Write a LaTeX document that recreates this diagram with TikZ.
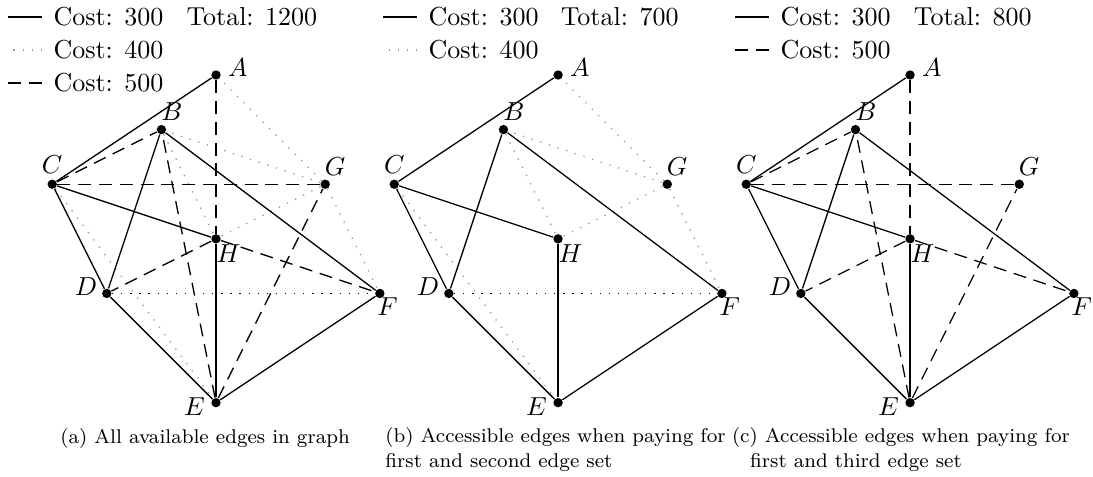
\documentclass[tikz,border=0pt]{standalone}
\usepackage{amsmath}
\usetikzlibrary{graphs}

\tikzset{
	vertex/.style={circle,fill=black,inner sep=0pt,minimum size=3.6pt},
	cost300/.style={line width=0.5pt},
	cost400/.style={line width=0.5pt,dash pattern=on 0.5pt off 3pt,black!40},
	cost500/.style={line width=0.5pt,dash pattern=on 5pt off 3pt},
	legtext/.style={anchor=west,inner sep=0pt},
	subcap/.style={inner sep=0pt,font=\fontsize{7.65}{9.6}\selectfont}
}

% the eight vertices of one panel, names prefixed by #1
\newcommand{\placevertices}[1]{%
	\node[vertex,label={[xshift=8.4pt,yshift=2.8pt]center:$A$}] (#1A) at (0,0) {};
	\node[vertex,label={[xshift=4pt,yshift=6.9pt]center:$B$}] (#1B) at (-1,-1) {};
	\node[vertex,label={[xshift=0pt,yshift=7.5pt]center:$C$}] (#1C) at (-3,-2) {};
	\node[vertex,label={[xshift=3.8pt,yshift=6.9pt]center:$G$}] (#1G) at (2,-2) {};
	\node[vertex,label={[xshift=4.8pt,yshift=-5.6pt]center:$H$}] (#1H) at (0,-3) {};
	\node[vertex,label={[xshift=-8pt,yshift=2.5pt]center:$D$}] (#1D) at (-2,-4) {};
	\node[vertex,label={[xshift=3pt,yshift=-5pt]center:$F$}] (#1F) at (3,-4) {};
	\node[vertex,label={[xshift=-8.3pt,yshift=-1.4pt]center:$E$}] (#1E) at (0,-6) {};
}

\begin{document}
\begin{tikzpicture}[x=21pt,y=21pt]
	\useasboundingbox (-3.956,-7.344) rectangle (16.06,1.374);

	% (a) all edges
	\begin{scope}
	\placevertices{a}
	\graph [use existing nodes] {
		aG --[cost400] {aA, aB, aH, aF};
		aB --[cost400] aH;
		aC --[cost400] aE;
		aD --[cost400,black] aF;
		
		aC --[cost500] {aB, aG};
		aA --[cost500] aH;
		aE --[cost500] {aB, aG};
		aH --[cost500] {aD, aF};
		
		aC --[cost300] {aA, aD, aH};
		aB --[cost300] {aD, aF};
		aE --[cost300] {aD, aH, aF};
	};
	\node[legtext] (aCost300) at (-2.985,1.062) {Cost: 300};
	\node[legtext] (aTotal) at (-0.55,1.062) {Total: 1200};
	\node[legtext] (aCost400) at (-2.985,0.458) {Cost: 400};
	\node[legtext] (aCost500) at (-2.985,-0.147) {Cost: 500};
	\draw[cost300] ([xshift=-4.2pt]aCost300.west) -- ++(-0.62,0);
	\draw[cost400] ([xshift=-4.2pt]aCost400.west) -- ++(-0.62,0);
	\draw[cost500] ([xshift=-4.2pt]aCost500.west) -- ++(-0.62,0);
	\node[subcap,anchor=base] (aCaption) at (-0.2,-6.74) {(a) All available edges in graph};
	\end{scope}

	% (b) first and second edge set
	\begin{scope}[shift={(6.264,0)}]
	\placevertices{b}
	\graph [use existing nodes] {
		bG --[cost400] {bA, bB, bH, bF};
		bB --[cost400] bH;
		bC --[cost400] bE;
		bD --[cost400,black] bF;
		
		bC --[cost300] {bA, bD, bH};
		bB --[cost300] {bD, bF};
		bE --[cost300] {bD, bH, bF};
	};
	\node[legtext] (bCost300) at (-2.38,1.062) {Cost: 300};
	\node[legtext] (bTotal) at (0.04,1.062) {Total: 700};
	\node[legtext] (bCost400) at (-2.38,0.458) {Cost: 400};
	\draw[cost300] ([xshift=-4.2pt]bCost300.west) -- ++(-0.62,0);
	\draw[cost400] ([xshift=-4.2pt]bCost400.west) -- ++(-0.62,0);
	\node[subcap,align=left,anchor=north west] (bCaption) at (-3.17,-6.454)
		{(b) Accessible edges when paying for\\first and second edge set};
	\end{scope}

	% (c) first and third edge set
	\begin{scope}[shift={(12.71,0)}]
	\placevertices{c}
	\graph [use existing nodes] {
		cC --[cost500] {cB, cG};
		cA --[cost500] cH;
		cE --[cost500] {cB, cG};
		cH --[cost500] {cD, cF};
		
		cC --[cost300] {cA, cD, cH};
		cB --[cost300] {cD, cF};
		cE --[cost300] {cD, cH, cF};
	};
	\node[legtext] (cCost300) at (-2.38,1.062) {Cost: 300};
	\node[legtext] (cTotal) at (0.06,1.062) {Total: 800};
	\node[legtext] (cCost500) at (-2.38,0.458) {Cost: 500};
	\draw[cost300] ([xshift=-4.2pt]cCost300.west) -- ++(-0.62,0);
	\draw[cost500] ([xshift=-4.2pt]cCost500.west) -- ++(-0.62,0);
	\node[subcap,align=left,anchor=north west] (cCaption) at (-3.27,-6.454)
		{(c) Accessible edges when paying for\\\hspace*{7pt}first and third edge set};
	\end{scope}
\end{tikzpicture}
\end{document}
